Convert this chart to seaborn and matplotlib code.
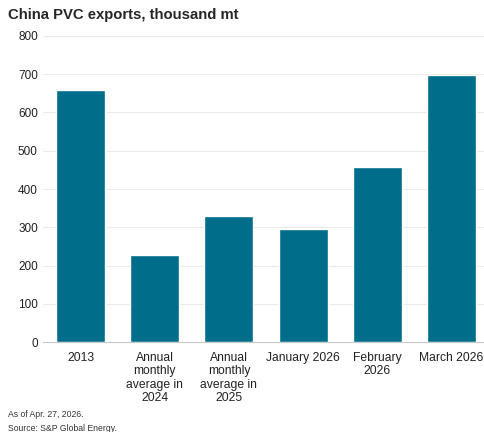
import numpy as np
import pandas as pd
import matplotlib.pyplot as plt
import seaborn as sns

# data
categories = ["2013", "Annual\nmonthly\naverage in\n2024", "Annual\nmonthly\naverage in\n2025",
              "January 2026", "February\n2026", "March 2026"]
exports = [659, 227, 329, 295, 457, 699]

df = pd.DataFrame({"period": categories, "kt": exports})

sns.set_theme(style="whitegrid")
plt.rcParams['font.family'] = ['Liberation Sans', 'DejaVu Sans']

fig = plt.figure(figsize=(4.85, 4.32), dpi=100)
ax = fig.add_axes([0.0895, 0.208, 0.918, 0.709])

sns.barplot(data=df, x="period", y="kt", color="#006E8A", saturation=1,
            width=0.66, ax=ax)

ax.set_ylim(0, 800)
ax.set_yticks(np.arange(0, 801, 100))
ax.set_xlabel("")
ax.set_ylabel("")
ax.grid(axis="y", color="#ebebeb", linewidth=0.8)
ax.grid(axis="x", visible=False)
ax.tick_params(axis="y", labelsize=8.5, colors="#222222", length=0, pad=4)
ax.tick_params(axis="x", labelsize=8.7, colors="#222222", length=0, pad=7)
for lbl in ax.get_xticklabels():
    lbl.set_linespacing(1.17)
sns.despine(ax=ax, left=True, top=True, right=True)
ax.spines["bottom"].set_color("#c8c8c8")
ax.spines["bottom"].set_linewidth(0.8)

fig.text(0.016, 0.965, "China PVC exports, thousand mt", fontsize=10.7,
         fontweight="bold", va="center", ha="left")
fig.text(0.016, 0.041, "As of Apr. 27, 2026.", fontsize=6.2, va="center", color="#333333")
fig.text(0.016, 0.009, "Source: S&P Global Energy.", fontsize=6.2, va="center", color="#333333")

fig.savefig("out.png", dpi=100)
